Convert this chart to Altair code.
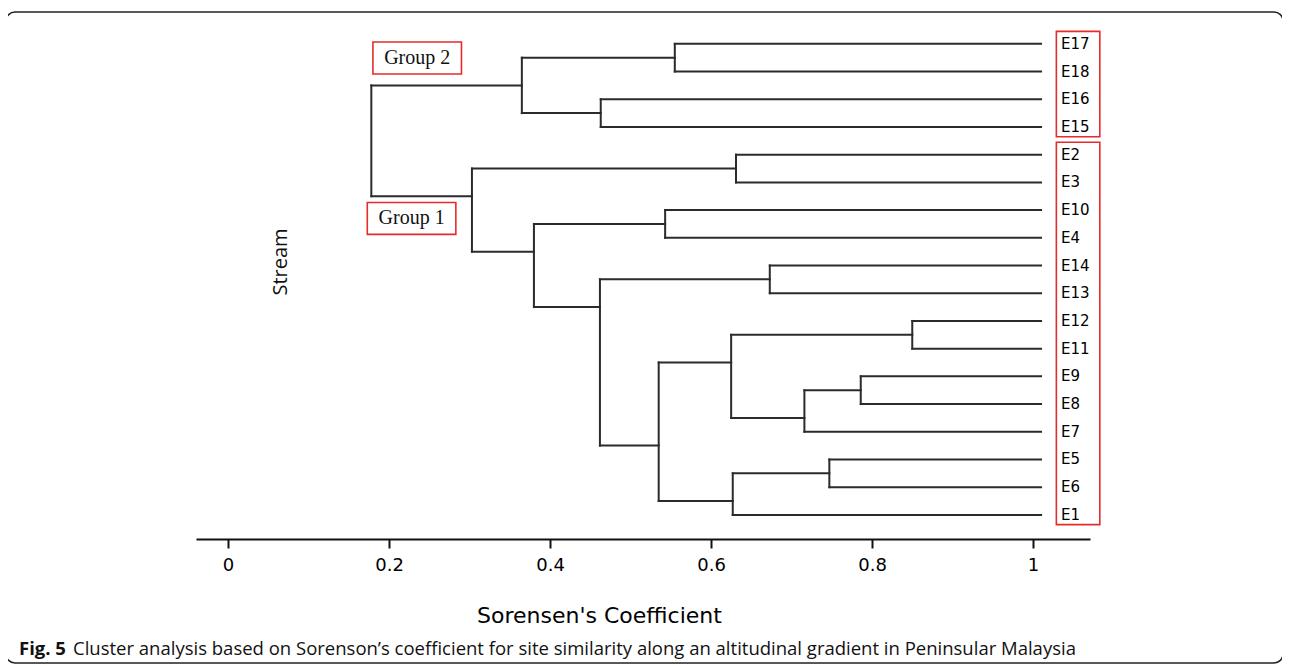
import altair as alt
import pandas as pd

# ---- data ----
leaves = ["E17", "E18", "E16", "E15", "E2", "E3", "E10", "E4", "E14",
          "E13", "E12", "E11", "E9", "E8", "E7", "E5", "E6", "E1"]
leaf_similarity = 1.01

merge_names = ["A", "B", "G2", "C", "D", "E", "F", "H", "I", "J", "K", "L",
               "M", "N", "O", "G1", "Root"]
merge_left = ["E17", "E16", "A", "E2", "E10", "E14", "E12", "E9", "H", "F",
              "E5", "K", "J", "E", "D", "C", "G2"]
merge_right = ["E18", "E15", "B", "E3", "E4", "E13", "E11", "E8", "E7", "I",
               "E6", "E1", "L", "M", "N", "O", "G1"]
merge_height = [0.555, 0.463, 0.365, 0.631, 0.543, 0.673, 0.850, 0.786, 0.716,
                0.625, 0.747, 0.627, 0.535, 0.462, 0.380, 0.303, 0.178]
merge_pos = [0.5, 2.5, 1.5, 4.5, 6.5, 8.5, 10.5, 12.5, 13.5, 11.5, 15.5, 16.5,
             14.5, 9.5, 7.5, 5.5, 3.5]

group_names = ["Group 2", "Group 1"]
group_first_leaf = ["E17", "E2"]
group_last_leaf = ["E15", "E1"]
group_label_x = [0.235, 0.228]
group_label_pos = [0.51, 6.30]

tick_values = [0, 0.2, 0.4, 0.6, 0.8, 1]

# ---- build segments ----
nodes = {}
for i, name in enumerate(leaves):
    nodes[name] = (leaf_similarity, float(i))
for name, h, p in zip(merge_names, merge_height, merge_pos):
    nodes[name] = (h, p)

segs = []
for name, l, r, h in zip(merge_names, merge_left, merge_right, merge_height):
    segs.append(dict(x=h, x2=h, y=nodes[l][1], y2=nodes[r][1]))
    for c in (l, r):
        segs.append(dict(x=h, x2=nodes[c][0], y=nodes[c][1], y2=nodes[c][1]))
seg_df = pd.DataFrame(segs)

leaf_df = pd.DataFrame({"name": leaves, "x": [leaf_similarity] * len(leaves),
                        "y": list(range(len(leaves)))})

box_rows = []
for g, a, b in zip(group_names, group_first_leaf, group_last_leaf):
    box_rows.append(dict(x=leaf_similarity + 0.019, x2=leaf_similarity + 0.073,
                         y=leaves.index(a) - 0.45, y2=leaves.index(b) + 0.35))
box_df = pd.DataFrame(box_rows)

glab_df = pd.DataFrame({"name": group_names, "x": group_label_x, "y": group_label_pos})
glab_df["x1"] = glab_df["x"] - 0.055
glab_df["x2"] = glab_df["x"] + 0.055
glab_df["y1"] = glab_df["y"] - 0.577
glab_df["y2"] = glab_df["y"] + 0.577

one = pd.DataFrame({"a": [0]})

XDOM = [-0.0398, 1.0708]
YDOM = [-0.5, 17.87]

xs = alt.Scale(domain=XDOM, nice=False, zero=False)
ys = alt.Scale(domain=YDOM, nice=False, zero=False, reverse=True)

x_axis = alt.Axis(values=tick_values, format="~g", title="Sorensen's Coefficient",
                  grid=False, domainColor="#111", domainWidth=2, tickColor="#111",
                  tickWidth=2, tickSize=9, labelFont="DejaVu Sans", labelFontSize=18,
                  labelColor="#000", labelPadding=8, titleFont="DejaVu Sans",
                  titleFontSize=22, titleFontWeight="normal", titleColor="#000",
                  titleX=403, titleY=76, titleBaseline="middle", titleAlign="center")


def X(field):
    return alt.X(field, scale=xs, axis=x_axis)


def Y(field):
    return alt.Y(field, scale=ys, axis=None)


lines = alt.Chart(seg_df).mark_rule(color="#2b2b2b", strokeWidth=2, strokeCap="square").encode(
    x=X("x:Q"), x2="x2:Q", y=Y("y:Q"), y2="y2:Q")

leaf_text = alt.Chart(leaf_df).mark_text(align="left", baseline="middle", dx=20,
                                         font="DejaVu Sans", fontSize=15, color="#000").encode(
    x=X("x:Q"), y=Y("y:Q"), text="name:N")

boxes = alt.Chart(box_df).mark_rect(filled=False, stroke="#e52b2b", strokeWidth=1.6).encode(
    x=X("x:Q"), x2="x2:Q", y=Y("y:Q"), y2="y2:Q")

gtext = alt.Chart(glab_df).mark_text(font="Liberation Serif", fontSize=20, color="#111",
                                     baseline="middle", align="center").encode(
    x=X("x:Q"), y=Y("y:Q"), text="name:N")

gbox = alt.Chart(glab_df).mark_rect(filled=False, stroke="#e52b2b", strokeWidth=1.6).encode(
    x=X("x1:Q"), x2="x2:Q", y=Y("y1:Q"), y2="y2:Q")

frame = alt.Chart(one).mark_rect(filled=False, stroke="#222", strokeWidth=1.5,
                                 cornerRadius=9).encode(
    x=alt.value(-190), x2=alt.value(1087), y=alt.value(-18), y2=alt.value(633))

stream = alt.Chart(one).mark_text(text="Stream", angle=270, font="Open Sans", fontSize=20,
                                  color="#111", baseline="middle", align="center").encode(
    x=alt.value(85), y=alt.value(232))

cap_bold = alt.Chart(one).mark_text(text="Fig. 5", font="Open Sans", fontWeight="bold",
                                    fontSize=18.5, color="#111", align="left",
                                    baseline="middle").encode(
    x=alt.value(-177), y=alt.value(619))

cap_rest = alt.Chart(one).mark_text(
    text="Cluster analysis based on Sorenson\u2019s coefficient for site similarity along an altitudinal gradient in Peninsular Malaysia",
    font="Open Sans", fontSize=18.5, color="#111", align="left", baseline="middle").encode(
    x=alt.value(-123), y=alt.value(619))

chart = alt.layer(frame, lines, leaf_text, boxes, gtext, gbox, stream, cap_bold, cap_rest).properties(
    width=894, height=509,
    background="white",
    autosize=alt.AutoSizeParams(type="none"),
    padding={"left": 188, "top": 22, "right": 192, "bottom": 126},
).configure_view(stroke=None, strokeWidth=0)

chart.save("out.html", embed_options={"renderer": "svg", "actions": False})
